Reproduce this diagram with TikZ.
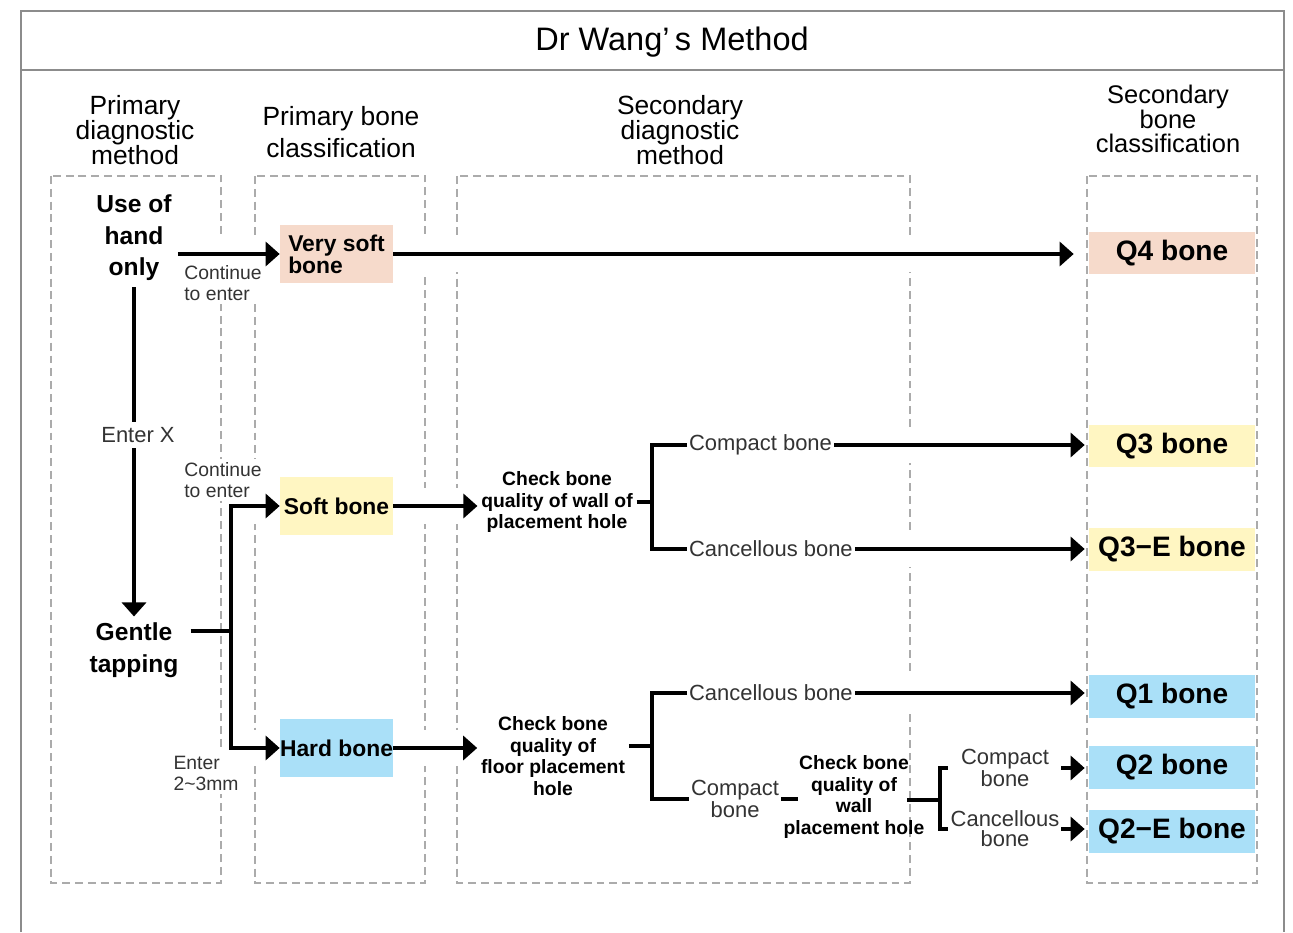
\documentclass[tikz,border=0pt]{standalone}
\usepackage{fontspec}
\setmainfont{Liberation Sans}
\usetikzlibrary{positioning,calc,arrows.meta}

\definecolor{peach}{HTML}{F6DACB}
\definecolor{lemon}{HTML}{FFF6C2}
\definecolor{sky}{HTML}{AAE0F8}
\definecolor{framegray}{HTML}{8C8C8C}
\definecolor{dashgray}{HTML}{ABABAB}

\tikzset{
  colhead/.style={align=center, font=\fontsize{15}{14}\selectfont},
  method/.style={align=center, font=\bfseries\fontsize{14}{18}\selectfont},
  bonebox/.style={align=left, inner sep=0pt, minimum width=2.26cm, minimum height=1.16cm, font=\bfseries\fontsize{13}{12.5}\selectfont},
  qbox/.style={minimum width=3.32cm, minimum height=0.86cm, inner sep=0pt, font=\bfseries\fontsize{16}{16}\selectfont},
  check/.style={align=center, inner sep=2pt, font=\bfseries\fontsize{11}{12.2}\selectfont},
  lbl/.style={align=left, inner sep=1pt, text=black!80, font=\fontsize{12.5}{11.5}\selectfont},
  slbl/.style={align=left, fill=white, inner sep=2pt, text=black!80, font=\fontsize{11}{12}\selectfont},
  link/.style={line width=1.9pt},
  arr/.style={line width=1.9pt, -{Triangle[length=0.28cm,width=0.48cm]}},
  gapcut/.style={preaction={draw=white, line width=21pt, -}},
  colframe/.style={draw=dashgray, line width=1.1pt, dash pattern=on 4.5pt off 2.8pt},
}

\begin{document}
\begin{tikzpicture}[x=0.02cm, y=-0.02cm]
\useasboundingbox (0,0) rectangle (1293,932);

% frame and title
\draw[framegray, line width=1.1pt] (21,932) -- (21,11) -- (1284,11) -- (1284,932);
\draw[framegray, line width=1.1pt] (21,70) -- (1284,70);
\node[font=\fontsize{18.5}{20}\selectfont] (title) at (672,42) {Dr Wang’\,s Method};

% column headers
\node[colhead] (h1) at (135,130) {Primary\\diagnostic\\method};
\node[colhead, font=\fontsize{15}{18}\selectfont] (h2) at (341,132) {Primary bone\\classification};
\node[colhead] (h3) at (680,130) {Secondary\\diagnostic\\method};
\node[colhead, font=\fontsize{14.5}{13.5}\selectfont] (h4) at (1168,119) {Secondary\\bone\\classification};

% dashed columns
\draw[colframe] (51,176) rectangle (221,883);
\draw[colframe] (255,176) rectangle (425,883);
\draw[colframe] (457,176) rectangle (910,883);
\draw[colframe] (1087,176) rectangle (1257,883);

% methods and bone boxes
\node[method] (hand) at (134,238) {Use of\\hand\\only};
\node[method] (gentle) at (134,650) {Gentle\\tapping};
\node[bonebox, fill=peach] (vsoft) at (336.5,254) {Very soft\\bone};
\node[bonebox, fill=lemon] (soft) at (336.5,506) {Soft bone};
\node[bonebox, fill=sky] (hard) at (336.5,748) {Hard bone};

% checks
\node[check] (wallchk) at (557,502) {Check bone\\quality of wall of\\placement hole};
\node[check] (floorchk) at (553,756) {Check bone\\quality of\\floor placement\\hole};
\node[check] (wallchk2) at (854,797) {Check bone\\quality of\\wall\\placement hole};

% secondary labels
\node[lbl, anchor=west] (comp1) at (687,445) {Compact bone};
\node[lbl, anchor=west] (canc1) at (687,549) {Cancellous bone};
\node[lbl, anchor=west] (canc2) at (687,693) {Cancellous bone};
\node[lbl, align=center, anchor=west] (comp2) at (689,799) {Compact\\bone};
\node[lbl, align=center] (comp3) at (1005,768) {Compact\\bone};
\node[lbl, align=center] (canc3) at (1005,829) {Cancellous\\bone};

% results
\node[qbox, fill=peach] (q4) at (1172,253) {Q4 bone};
\node[qbox, fill=lemon] (q3) at (1172,446) {Q3 bone};
\node[qbox, fill=lemon] (q3e) at (1172,549) {Q3−E bone};
\node[qbox, fill=sky] (q1) at (1172,696) {Q1 bone};
\node[qbox, fill=sky] (q2) at (1172,767) {Q2 bone};
\node[qbox, fill=sky] (q2e) at (1172,831) {Q2−E bone};

% hand only
\draw[arr, gapcut] (hand.east |- vsoft.west) -- (vsoft.west);
\draw[arr, gapcut, shorten >=0.3cm] (vsoft.east) -- (vsoft.east -| q4.west);
\draw[arr] (hand) -- (gentle)
  node[lbl, fill=white, inner sep=3pt, pos=0.45, xshift=0.08cm] (enterx) {Enter X};

% gentle tapping
\coordinate (fork) at (231,631);
\draw[arr, gapcut] (fork |- soft) -- (soft.west);
\draw[arr, gapcut] (fork |- hard) -- (hard.west);
\draw[link, line cap=rect] (fork |- soft) -- (fork |- hard);
\draw[link, shorten <=0.12cm] (gentle.east |- fork) -- (fork);
\node[slbl] (cont1) at (223,283) {Continue\\to enter};
\node[slbl] (cont2) at (223,480) {Continue\\to enter};
\node[slbl] (enter2) at (206,773) {Enter\\2\textasciitilde 3mm};

% soft bone branch
\draw[arr, gapcut] (soft.east) -- (soft.east -| wallchk.west);
\coordinate (fork2) at (652,502);
\draw[link] (wallchk.east |- fork2) -- (fork2);
\draw[link] (comp1.west) -| (fork2) |- (canc1.west);
\draw[arr, gapcut, shorten >=0.08cm] (comp1.east) -- (comp1.east -| q3.west);
\draw[arr, gapcut, shorten >=0.08cm] (canc1.east) -- (canc1.east -| q3e.west);

% hard bone branch
\draw[arr, gapcut] (hard.east) -- (hard.east -| floorchk.west);
\coordinate (fork3) at (652,746);
\draw[link] (floorchk.east |- fork3) -- (fork3);
\draw[link] (canc2.west) -| (fork3) |- (comp2.west);
\draw[arr, gapcut, shorten >=0.08cm] (canc2.east) -- (canc2.east -| q1.west);
\coordinate (c3in) at (798,799);
\draw[link] (comp2.east) -- (c3in);
\coordinate (c3out) at (907,800);
\coordinate (fork4) at (940,800);
\draw[link] (c3out) -- (fork4);
\draw[link] (fork4 |- comp3) ++(8,0) -- (fork4 |- comp3) -- (fork4 |- canc3) -- ++(8,0);
\draw[arr, shorten >=0.08cm] (canc3.east |- comp3) -- (comp3 -| q2.west);
\draw[arr, shorten >=0.08cm] (canc3.east) -- (canc3 -| q2e.west);

\end{tikzpicture}
\end{document}
